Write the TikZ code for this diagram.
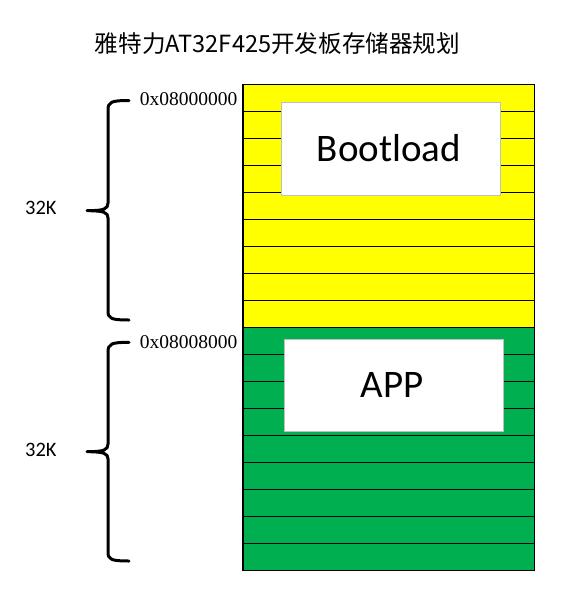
\documentclass[tikz,border=0pt]{standalone}
\usepackage{fontspec}
\setmainfont{Liberation Serif}
\newfontfamily\calfont{Carlito}
\newfontfamily\cjk{Noto Sans CJK SC}
\definecolor{memyellow}{HTML}{FFFF00}
\definecolor{memgreen}{HTML}{00B050}
\definecolor{boxgray}{HTML}{BFBFBF}
\begin{document}
\begin{tikzpicture}[x=1pt,y=-1pt,
  cell/.style={draw=black,line width=1pt},
  labelbox/.style={draw=boxgray,line width=1pt,fill=white},
  bigtxt/.style={font=\calfont\fontsize{39}{47}\selectfont,inner sep=0pt},
  addr/.style={font=\fontsize{19.5}{23}\selectfont,inner sep=0pt,anchor=base east},
  sizetxt/.style={font=\calfont\fontsize{20.5}{24}\selectfont,inner sep=0pt,anchor=base west},
  bracestyle/.style={draw=black,line width=3pt,line cap=round,line join=round}]
\useasboundingbox (0,0) rectangle (560,597);
% title
\node[font=\cjk\fontsize{23.6}{28}\selectfont,inner sep=0pt] (title) at (277.5,44) {雅特力AT32F425开发板存储器规划};
% memory cells
\foreach \i in {0,...,8}{
  \path[cell,fill=memyellow] (242.5,{84+27*\i}) rectangle (534,{84+27*(\i+1)});
  \path[cell,fill=memgreen] (242.5,{327+27.0*\i}) rectangle (534,{327+27.0*(\i+1)});
}
\node[cell,fill=none,minimum width=291.5pt,minimum height=243pt,inner sep=0pt,anchor=north west] (bootarea) at (242.5,84) {};
\node[cell,fill=none,minimum width=291.5pt,minimum height=243pt,inner sep=0pt,anchor=north west] (apparea) at (242.5,327) {};
% label boxes
\node[labelbox,minimum width=219pt,minimum height=93.5pt,inner sep=0pt,anchor=north west] (bootbox) at (280.5,101.8) {};
\node[bigtxt,anchor=base] (boottxt) at (389,161.7) {Bootload};
\node[labelbox,minimum width=219pt,minimum height=92.5pt,inner sep=0pt,anchor=north west] (appbox) at (283.5,338.8) {};
\node[bigtxt,anchor=base] (apptxt) at (392,397.7) {APP};
% addresses
\node[addr] (addr1) at (237.5,105.7) {0x08000000};
\node[addr] (addr2) at (237.5,348.5) {0x08008000};
% sizes
\node[sizetxt] (size1) at (25,214) {32K};
\node[sizetxt] (size2) at (25,456.5) {32K};
% braces
\path[bracestyle] (129,100.5) .. controls (111,100.5) and (108,102) .. (108,110) -- (108,203)
  .. controls (108,209) and (104,210.7) .. (87,210.7)
  .. controls (104,210.7) and (108,212.5) .. (108,218) -- (108,311)
  .. controls (108,318.5) and (111,320) .. (129,320);
\path[bracestyle] (129,342.3) .. controls (111,342.3) and (108,344) .. (108,352) -- (108,444)
  .. controls (108,450) and (104,451.7) .. (87,451.7)
  .. controls (104,451.7) and (108,453.5) .. (108,459) -- (108,552)
  .. controls (108,559.5) and (111,561) .. (129,561);
\end{tikzpicture}
\end{document}
